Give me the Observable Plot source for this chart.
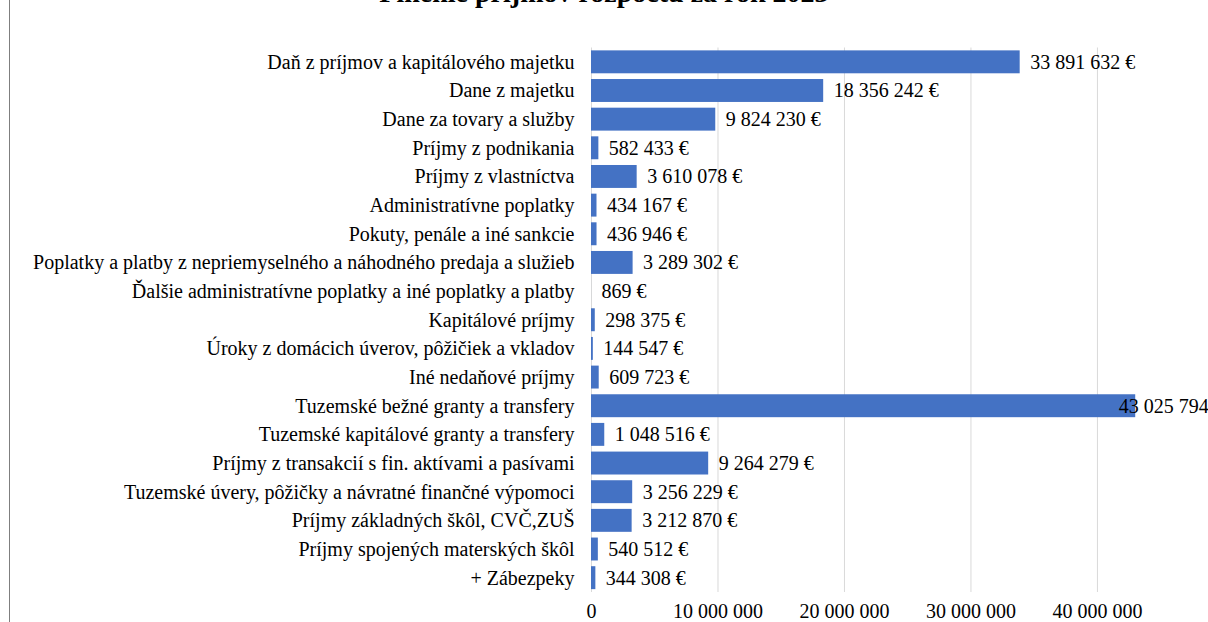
<!DOCTYPE html>
<html><head><meta charset="utf-8">
<script src="https://cdn.jsdelivr.net/npm/d3@7"></script>
<script src="https://cdn.jsdelivr.net/npm/@observablehq/plot@0.6"></script>
<style>
html,body{margin:0;padding:0;background:#fff;}
#wrap{position:relative;width:1208px;height:622px;overflow:hidden;}
#border{position:absolute;left:9px;top:0;width:0;height:622px;border-left:1px solid #7f7f7f;}
#title{position:absolute;left:0;width:1208px;top:-23px;line-height:32px;text-align:center;font:bold 28px "Liberation Serif",serif;color:#000;}
#chart{position:absolute;left:0;top:0;}
</style></head>
<body><div id="wrap"><div id="border"></div><div id="chart"></div><div id="title">Plnenie príjmov rozpočtu za rok 2023</div></div>
<script>
const categories = [
  "Daň z príjmov a kapitálového majetku",
  "Dane z majetku",
  "Dane za tovary a služby",
  "Príjmy z podnikania",
  "Príjmy z vlastníctva",
  "Administratívne poplatky",
  "Pokuty, penále a iné sankcie",
  "Poplatky a platby z nepriemyselného a náhodného predaja a služieb",
  "Ďalšie administratívne poplatky a iné poplatky a platby",
  "Kapitálové príjmy",
  "Úroky z domácich úverov, pôžičiek a vkladov",
  "Iné nedaňové príjmy",
  "Tuzemské bežné granty a transfery",
  "Tuzemské kapitálové granty a transfery",
  "Príjmy z transakcií s fin. aktívami a pasívami",
  "Tuzemské úvery, pôžičky a návratné finančné výpomoci",
  "Príjmy základných škôl, CVČ,ZUŠ",
  "Príjmy spojených materských škôl",
  "+ Zábezpeky"
];
const values = [33891632, 18356242, 9824230, 582433, 3610078, 434167, 436946, 3289302, 869, 298375, 144547, 609723, 43025794, 1048516, 9264279, 3256229, 3212870, 540512, 344308];
const xTicks = [0, 10000000, 20000000, 30000000, 40000000];

const data = categories.map((c, i) => ({category: c, value: values[i]}));
const loc = d3.formatLocale({thousands: " ", grouping: [3], decimal: ","});
const fmt = loc.format(",");
const W = 1208, H = 622;
const xMax = 48780000;
const overflowLimit = 41000000;

const chart = Plot.plot({
  width: W, height: H,
  marginLeft: 591, marginRight: 0, marginTop: 47.5, marginBottom: 30,
  style: {fontFamily: "'Liberation Serif', serif", fontSize: "20px", color: "#000", background: "transparent"},
  x: {domain: [0, xMax], ticks: xTicks, tickFormat: fmt, tickSize: 0, tickPadding: 11, label: null},
  y: {domain: categories, paddingInner: 0.2, paddingOuter: 0.1, round: false, tickSize: 0, tickPadding: 17, label: null},
  marks: [
    Plot.gridX(xTicks, {stroke: "#d9d9d9", strokeOpacity: 1}),
    Plot.barX(data, {x: "value", y: "category", fill: "#4472c4"}),
    Plot.text(data.filter(d => d.value < overflowLimit), {x: "value", y: "category", text: d => fmt(d.value) + " €", textAnchor: "start", dx: 10, fontSize: 20, fill: "#000"}),
    Plot.text(data.filter(d => d.value >= overflowLimit), {x: "value", y: "category", text: d => fmt(d.value) + " €", textAnchor: "start", dx: -17, fontSize: 20, fill: "#000"})
  ]
});
document.getElementById("chart").appendChild(chart);
</script>
</body></html>
